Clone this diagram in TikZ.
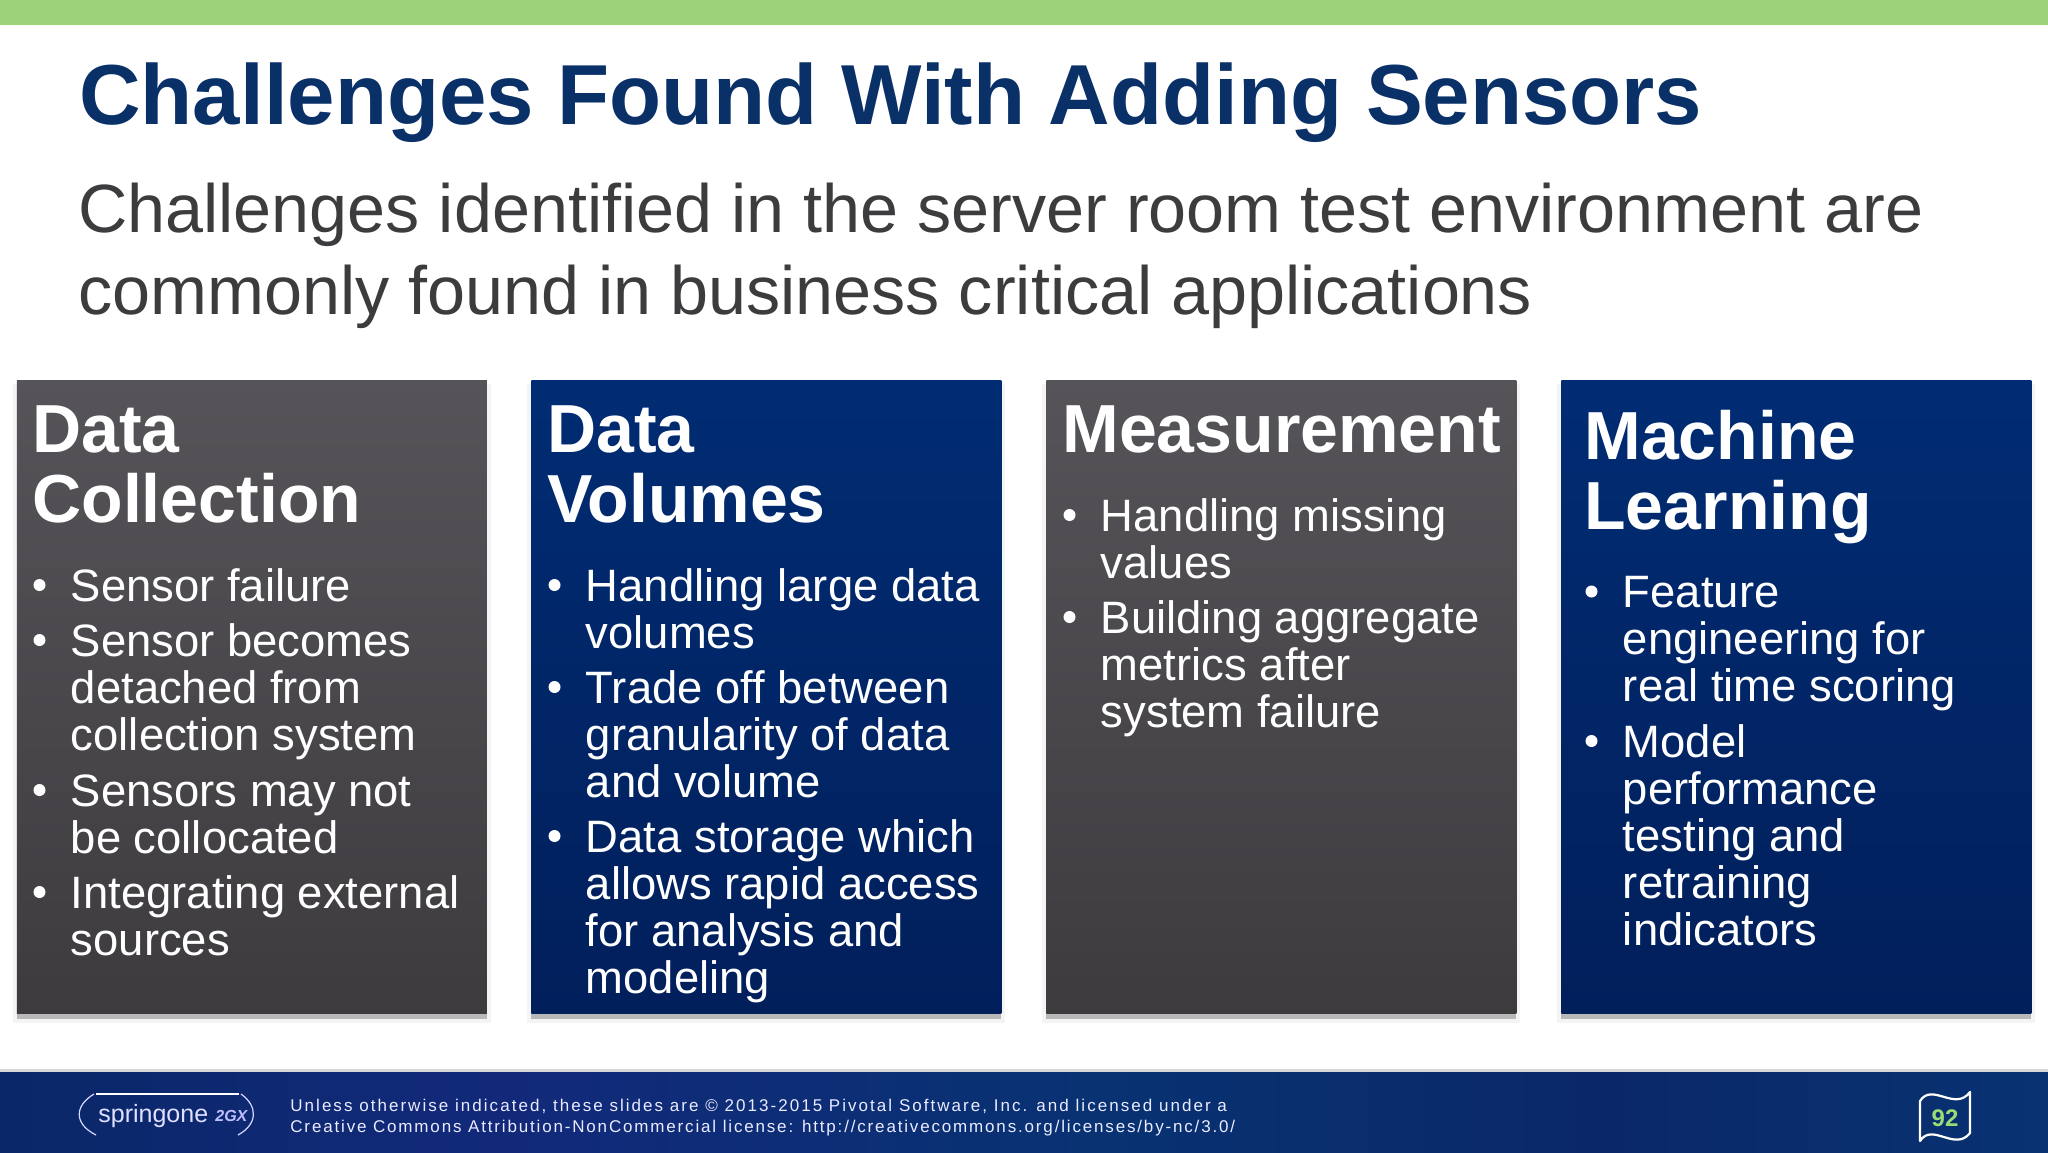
\documentclass[tikz,border=0pt]{standalone}
\usepackage{fontspec}
\setmainfont{Liberation Sans}
\normallineskiplimit=-50pt
\lineskiplimit=-50pt
\definecolor{barg}{HTML}{9DD27A}
\definecolor{titleblue}{HTML}{0A3068}
\definecolor{subgrey}{HTML}{3C3B3E}
\definecolor{greytop}{HTML}{565458}
\definecolor{greybot}{HTML}{3D3B3E}
\definecolor{bluetop}{HTML}{012C73}
\definecolor{bluebot}{HTML}{011F5B}
\definecolor{foot}{HTML}{0A2868}
\definecolor{footb}{HTML}{12297A}
\definecolor{footc}{HTML}{083272}
\definecolor{pagegreen}{HTML}{9ADB75}
\tikzset{
  x=0.5pt,y=-0.5pt,
  cardgrey/.style={top color=greytop,bottom color=greybot,draw=none},
  cardblue/.style={top color=bluetop,bottom color=bluebot,draw=none},
  cardhead/.style={anchor=north west,inner sep=0pt,text=white,align=left,font=\bfseries\fontsize{34pt}{35.2pt}\selectfont},
  item/.style={anchor=north west,inner sep=0pt,text=white,align=left,font=\fontsize{22.7pt}{23.5pt}\selectfont},
  dot/.style={circle,fill=white,inner sep=0pt,minimum size=6pt},
  footline/.style={anchor=base west,inner sep=0pt,text=white!92!blue},
}
\newfontfamily\foota[LetterSpace=12]{Liberation Sans}
\newfontfamily\footb[LetterSpace=10.8]{Liberation Sans}
\newcommand{\card}[3]{% name, x, style
  \fill[black!40,opacity=.10] (#2-4,384) rectangle (#2+474,1023);
  \fill[black!60,opacity=.42] (#2,1000) rectangle (#2+470,1019);
  \node[#3,anchor=north west,minimum width=235pt,minimum height=316.5pt,inner sep=0pt] (#1) at (#2,380) {};
}
\newcommand{\bitem}[4]{% name, x of text, y of first baseline, text
  \node[dot] (#1d) at (#2-31,#3-16) {};
  \node[item] (#1) at (#2,#3-32.9) {\strut #4};
}
\begin{document}
\begin{tikzpicture}
\useasboundingbox (0,0) rectangle (2048,1152);
\fill[white] (0,0) rectangle (2048,1152);
% top bar
\fill[barg] (0,0) rectangle (2048,25);
% title and subtitle
\node[anchor=base west,inner sep=0pt,text=titleblue,font=\bfseries\fontsize{42.6pt}{44pt}\selectfont] (title) at (79,124) {Challenges Found With Adding Sensors};
\node[anchor=north west,inner sep=0pt,text=subgrey,align=left,font=\fontsize{34.15pt}{41pt}\selectfont] (sub) at (78,232-57.4) {\strut Challenges identified in the server room test environment are\\commonly found in business critical applications};
% cards
\card{c1}{16.5}{cardgrey}
\card{c2}{531}{cardblue}
\card{c3}{1046}{cardgrey}
\card{c4}{1561}{cardblue}
% card 1
\node[cardhead] (h1) at (32,452-49.3) {\strut Data\\Collection};
\bitem{a1}{70.5}{601}{Sensor failure}
\bitem{a2}{70.5}{656}{Sensor becomes\\detached from\\collection system}
\bitem{a3}{70.5}{806}{Sensors may not\\be collocated}
\bitem{a4}{70.5}{908}{Integrating external\\sources}
% card 2
\node[cardhead] (h2) at (547,452-49.3) {\strut Data\\Volumes};
\bitem{b1}{585.5}{601}{Handling large data\\volumes}
\bitem{b2}{585.5}{703}{Trade off between\\granularity of data\\and volume}
\bitem{b3}{585.5}{852}{Data storage which\\allows rapid access\\for analysis and\\modeling}
% card 3
\node[cardhead] (h3) at (1062,452-49.3) {\strut Measurement};
\bitem{d1}{1100.5}{531}{Handling missing\\values}
\bitem{d2}{1100.5}{633}{Building aggregate\\metrics after\\system failure}
% card 4
\node[cardhead] (h4) at (1584,459-49.3) {\strut Machine\\Learning};
\bitem{e1}{1622.5}{607.5}{Feature\\engineering for\\real time scoring}
\bitem{e2}{1622.5}{757}{Model\\performance\\testing and\\retraining\\indicators}
% footer
\fill[black!30,opacity=.5] (0,1069) rectangle (2048,1073);
\shade[left color=foot,right color=footb] (0,1072) rectangle (500,1152);
\shade[left color=footb,right color=footc] (500,1072) rectangle (1100,1152);
\shade[left color=footc,right color=foot] (1100,1072) rectangle (1600,1152);
\shade[left color=foot,right color=footc] (1600,1072) rectangle (2048,1152);
% logo
\draw[white,line width=1pt] (96,1094) -- (239,1094);
\draw[white!85!blue,line width=.6pt] (94,1094) .. controls (74,1106) and (74,1124) .. (96,1135);
\draw[white!85!blue,line width=.6pt] (241,1094) .. controls (258,1106) and (258,1124) .. (238,1135);
\node[anchor=base west,inner sep=0pt,text=white!88!blue,font=\fontsize{12.5pt}{13pt}\selectfont] (logoa) at (98,1122) {springone};
\node[anchor=base west,inner sep=0pt,text=white!75!blue,font=\itshape\bfseries\fontsize{8pt}{9pt}\selectfont] (logob) at (215,1121) {2GX};
% footer text
\node[footline,font=\foota\fontsize{8.5pt}{10pt}\selectfont] (f1) at (290,1111) {Unless otherwise indicated, these slides are © 2013-2015 Pivotal Software, Inc. and licensed under a};
\node[footline,font=\footb\fontsize{8.5pt}{10pt}\selectfont] (f2) at (290,1132) {Creative Commons Attribution-NonCommercial license: http://creativecommons.org/licenses/by-nc/3.0/};
% page flag
\draw[white,line width=1.1pt,line join=round] (1920,1101) .. controls (1932,1082) and (1955,1112) .. (1970,1092) -- (1970,1133) .. controls (1955,1152) and (1932,1122) .. (1920,1141) -- cycle;
\node[inner sep=0pt,text=pagegreen,font=\bfseries\fontsize{12pt}{14pt}\selectfont] (page) at (1945,1118) {92};
\end{tikzpicture}
\end{document}
